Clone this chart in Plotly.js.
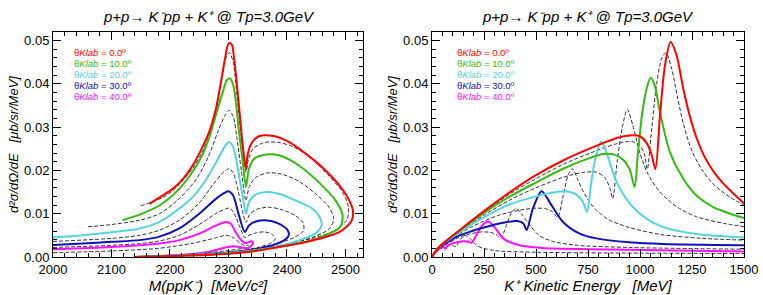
<!DOCTYPE html>
<html>
<head>
<meta charset="utf-8">
<script src="https://cdn.plot.ly/plotly-3.0.1.min.js"></script>
<style>html,body{margin:0;padding:0;background:#fff}#chart{width:763px;height:295px}</style>
</head>
<body>
<div id="chart"></div>
<script>
// ===== Right panel: K+ kinetic energy (MeV) vs d2sigma/dOmega/dE =====
var tRed = [0,15,40,75,120,180,250,375,500,630,760,890,950,1000,1030,1055,1074,1096,1120,1147,1175,1208,1240,1272,1310,1353,1400,1450,1500];
var sRed = [0,0.0012,0.0026,0.0040,0.0057,0.0080,0.0106,0.0150,0.0189,0.0223,0.0251,0.0275,0.0281,0.0279,0.0265,0.0238,0.0203,0.0327,0.0443,0.0497,0.0468,0.0389,0.0325,0.0275,0.0232,0.0198,0.0170,0.0146,0.0124];
var tGreen = [0,15,40,75,120,180,250,375,500,630,760,825,880,920,950,974,990,1010,1035,1051,1070,1096,1144,1208,1272,1353,1433,1500];
var sGreen = [0,0.0012,0.0026,0.0040,0.0056,0.0078,0.0102,0.0140,0.0172,0.0204,0.0229,0.0238,0.0236,0.0224,0.0203,0.0162,0.0240,0.0330,0.0395,0.0414,0.0398,0.0335,0.0242,0.0181,0.0142,0.0115,0.0100,0.0090];
var tCyan = [0,15,40,75,120,180,250,375,500,560,630,680,710,730,745,765,785,814,840,888,952,1032,1112,1272,1500];
var sCyan = [0,0.0012,0.0025,0.0038,0.0053,0.0072,0.0092,0.0122,0.0140,0.0147,0.0152,0.0148,0.0138,0.0122,0.0104,0.0170,0.0227,0.0267,0.0240,0.0173,0.0123,0.0088,0.0069,0.0053,0.0045];
var tBlue = [0,15,40,75,120,180,250,330,410,440,455,485,527,565,630,710,790,950,1110,1500];
var sBlue = [0,0.0011,0.0023,0.0034,0.0047,0.0058,0.0068,0.0078,0.0083,0.0077,0.0062,0.0112,0.0152,0.0127,0.0081,0.0054,0.0043,0.0034,0.0030,0.0027];
var tMag = [0,15,35,55,63,75,100,140,170,190,215,245,271,300,345,420,530,770,1500];
var sMag = [0,0.0010,0.0020,0.0024,0.0019,0.0026,0.0032,0.0036,0.0036,0.0033,0.0052,0.0075,0.0082,0.0069,0.0042,0.0027,0.0021,0.0018,0.0013];
var tD5 = [0,15,40,75,120,180,250,375,500,630,760,890,960,1000,1020,1035,1055,1080,1105,1125,1150,1180,1210,1250,1300,1353,1433,1500];
var sD5 = [0,0.0012,0.0026,0.0040,0.0057,0.0079,0.0104,0.0146,0.0181,0.0214,0.0240,0.0262,0.0267,0.0257,0.0240,0.0203,0.0290,0.0400,0.0460,0.0472,0.0440,0.0370,0.0305,0.0245,0.0200,0.0168,0.0138,0.0120];
var tD15 = [0,15,40,75,120,180,250,375,500,630,720,790,830,855,869,890,915,939,965,1000,1040,1100,1180,1272,1400,1500];
var sD15 = [0,0.0012,0.0025,0.0039,0.0055,0.0075,0.0097,0.0132,0.0160,0.0184,0.0195,0.0196,0.0184,0.0160,0.0135,0.0220,0.0300,0.0341,0.0305,0.0240,0.0190,0.0148,0.0115,0.0093,0.0078,0.0070];
var tD25 = [0,15,40,75,120,180,250,330,420,500,550,580,604,630,655,675,700,720,760,800,850,950,1100,1300,1500];
var sD25 = [0,0.0011,0.0024,0.0036,0.0050,0.0067,0.0083,0.0098,0.0108,0.0113,0.0111,0.0104,0.0092,0.0140,0.0190,0.0204,0.0180,0.0158,0.0125,0.0104,0.0086,0.0068,0.0052,0.0043,0.0039];
var tD35 = [0,15,40,75,120,180,240,290,315,332,355,380,404,430,465,515,580,700,950,1500];
var sD35 = [0,0.0010,0.0021,0.0031,0.0043,0.0053,0.0058,0.0056,0.0050,0.0043,0.0070,0.0100,0.0113,0.0100,0.0077,0.0050,0.0036,0.0027,0.0022,0.0018];
var tD45 = [0,15,40,70,100,115,135,160,185,220,300,500,1000,1500];
var sD45 = [0,0.0009,0.0018,0.0025,0.0026,0.0024,0.0040,0.0050,0.0042,0.0025,0.0015,0.0011,0.0009,0.0008];

// ===== Left panel: M(ppK-) (MeV/c2) vs d2sigma/dOmega/dE =====
var mRed = [2165,2185,2205,2222,2239,2254,2267,2278,2286,2294,2300,2305,2310,2315,2320,2325,2330,2333,2340,2352,2375,2403,2432,2466,2494,2508,2513,2510,2490,2455,2420,2386,2352,2320,2280,2220,2140];
var yRed = [0.0123,0.0140,0.0158,0.0180,0.0212,0.0250,0.0289,0.0340,0.0395,0.0458,0.0493,0.0493,0.0455,0.0390,0.0320,0.0250,0.0204,0.0238,0.0264,0.0279,0.0280,0.0266,0.0239,0.0200,0.0158,0.0127,0.0105,0.0082,0.0058,0.0042,0.0031,0.0023,0.0015,0.0010,0.0006,0.0003,0];
var mGreen = [2119,2148,2182,2216,2240,2255,2268,2280,2290,2297,2302,2308,2313,2318,2324,2330,2335,2344,2364,2386,2420,2454,2483,2495,2491,2466,2432,2386,2335,2290,2220,2140];
var yGreen = [0.0085,0.0098,0.0119,0.0158,0.0200,0.0235,0.0280,0.0335,0.0380,0.0408,0.0413,0.0398,0.0355,0.0290,0.0225,0.0162,0.0204,0.0227,0.0237,0.0235,0.0212,0.0173,0.0131,0.0097,0.0069,0.0050,0.0035,0.0023,0.0013,0.0008,0.0003,0];
var mCyan = [2000,2050,2100,2148,2182,2216,2240,2260,2279,2293,2301,2308,2316,2324,2330,2335,2344,2364,2386,2414,2443,2457,2459,2448,2420,2386,2341,2300,2220,2140];
var yCyan = [0.0045,0.0050,0.0057,0.0066,0.0081,0.0112,0.0140,0.0175,0.0219,0.0254,0.0266,0.0254,0.0204,0.0142,0.0100,0.0127,0.0142,0.0150,0.0146,0.0131,0.0112,0.0089,0.0073,0.0054,0.0038,0.0025,0.0015,0.0009,0.0004,0];
var mBlue = [2000,2050,2100,2148,2182,2216,2250,2279,2293,2300,2308,2318,2328,2335,2347,2364,2386,2401,2403,2392,2364,2335,2290,2220,2140];
var yBlue = [0.0028,0.0031,0.0035,0.0039,0.0047,0.0066,0.0100,0.0135,0.0148,0.0152,0.0142,0.0096,0.0058,0.0073,0.0082,0.0085,0.0077,0.0062,0.0050,0.0036,0.0023,0.0015,0.0009,0.0004,0];
var mMag = [2000,2050,2100,2148,2182,2216,2250,2279,2295,2304,2312,2321,2329,2335,2340,2342,2338,2331,2322,2308,2295,2270,2230,2180,2140];
var yMag = [0.0018,0.0020,0.0023,0.0027,0.0031,0.0039,0.0054,0.0073,0.0081,0.0077,0.0058,0.0040,0.0032,0.0035,0.0036,0.0031,0.0025,0.0019,0.0022,0.0025,0.0022,0.0013,0.0006,0.0002,0];
var mD5 = [2150,2185,2205,2239,2254,2268,2280,2290,2297,2302,2308,2313,2320,2325,2330,2334,2342,2360,2385,2410,2440,2470,2495,2505,2502,2480,2440,2400,2350,2300,2220,2140];
var yD5 = [0.0118,0.0136,0.0153,0.0205,0.0240,0.0285,0.0345,0.0420,0.0465,0.0472,0.0450,0.0395,0.0300,0.0245,0.0196,0.0225,0.0250,0.0264,0.0265,0.0255,0.0230,0.0190,0.0150,0.0115,0.0085,0.0060,0.0042,0.0030,0.0018,0.0010,0.0004,0];
var mD15 = [2060,2100,2148,2182,2216,2245,2265,2282,2295,2301,2308,2315,2322,2330,2335,2345,2365,2390,2420,2450,2472,2480,2472,2445,2400,2350,2300,2220,2140];
var yD15 = [0.0070,0.0075,0.0085,0.0100,0.0135,0.0180,0.0230,0.0290,0.0330,0.0339,0.0325,0.0270,0.0200,0.0130,0.0160,0.0182,0.0194,0.0192,0.0175,0.0145,0.0115,0.0088,0.0065,0.0046,0.0030,0.0019,0.0011,0.0004,0];
var mD25 = [2000,2100,2148,2182,2216,2250,2275,2293,2301,2308,2317,2324,2330,2336,2348,2368,2390,2415,2428,2428,2412,2380,2340,2300,2220,2140];
var yD25 = [0.0036,0.0043,0.0050,0.0062,0.0085,0.0125,0.0170,0.0198,0.0204,0.0195,0.0150,0.0105,0.0080,0.0098,0.0110,0.0115,0.0110,0.0095,0.0078,0.0060,0.0045,0.0030,0.0018,0.0010,0.0004,0];
var mD35 = [2000,2100,2148,2182,2216,2250,2278,2295,2302,2310,2320,2328,2335,2348,2362,2375,2380,2372,2350,2320,2280,2210,2140];
var yD35 = [0.0022,0.0027,0.0031,0.0037,0.0050,0.0075,0.0100,0.0111,0.0113,0.0100,0.0068,0.0045,0.0050,0.0056,0.0058,0.0052,0.0042,0.0032,0.0022,0.0015,0.0009,0.0003,0];
var mD45 = [2000,2100,2180,2240,2280,2296,2308,2320,2328,2334,2336,2328,2300,2250,2190,2140];
var yD45 = [0.0010,0.0014,0.0020,0.0032,0.0045,0.0050,0.0045,0.0032,0.0026,0.0027,0.0024,0.0021,0.0015,0.0008,0.0003,0];

var legendLabels = ['0.0','10.0','20.0','30.0','40.0'];
var colors = ['#ff0000','#33bb11','#55d4e0','#1010b8','#ff10ff'];

function solid(x, y, c, xa, ya) {
  return {x:x, y:y, xaxis:xa, yaxis:ya, mode:'lines', type:'scatter', hoverinfo:'skip', showlegend:false,
          line:{color:c, width:2, shape:'spline', smoothing:0.8}};
}
function dashed(x, y, xa, ya) {
  return {x:x, y:y, xaxis:xa, yaxis:ya, mode:'lines', type:'scatter', hoverinfo:'skip', showlegend:false,
          line:{color:'#333333', width:1, dash:'4px,2px', shape:'spline', smoothing:0.8}};
}

var data = [
  dashed(mD5,yD5,'x','y'), dashed(mD15,yD15,'x','y'), dashed(mD25,yD25,'x','y'), dashed(mD35,yD35,'x','y'), dashed(mD45,yD45,'x','y'),
  solid(mMag,yMag,colors[4],'x','y'), solid(mBlue,yBlue,colors[3],'x','y'), solid(mCyan,yCyan,colors[2],'x','y'),
  solid(mGreen,yGreen,colors[1],'x','y'), solid(mRed,yRed,colors[0],'x','y'),
  dashed(tD5,sD5,'x2','y2'), dashed(tD15,sD15,'x2','y2'), dashed(tD25,sD25,'x2','y2'), dashed(tD35,sD35,'x2','y2'), dashed(tD45,sD45,'x2','y2'),
  solid(tMag,sMag,colors[4],'x2','y2'), solid(tBlue,sBlue,colors[3],'x2','y2'), solid(tCyan,sCyan,colors[2],'x2','y2'),
  solid(tGreen,sGreen,colors[1],'x2','y2'), solid(tRed,sRed,colors[0],'x2','y2')
];

var FONT = 'Liberation Sans, Arial, Helvetica, sans-serif';
function xax(dom, range, dtick, minor, title, anchor) {
  return {domain:dom, range:range, dtick:dtick, tick0:range[0], anchor:anchor,
    showgrid:false, zeroline:false, showline:true, linecolor:'#000', linewidth:1, mirror:'ticks',
    ticks:'inside', ticklen:8, tickwidth:1, tickcolor:'#000',
    minor:{ticks:'inside', ticklen:4, dtick:minor, tickcolor:'#000', showgrid:false},
    tickfont:{family:FONT, size:13, color:'#000'},
    title:{text:title, font:{family:FONT, size:15, color:'#000'}, standoff:4}};
}
function yax(anchor, title) {
  return {domain:[0,1], range:[0,0.052], dtick:0.01, tick0:0, tickformat:'.2f', anchor:anchor,
    showgrid:false, zeroline:false, showline:true, linecolor:'#000', linewidth:1, mirror:'ticks',
    ticks:'inside', ticklen:8, tickwidth:1, tickcolor:'#000',
    minor:{ticks:'inside', ticklen:4, dtick:0.002, tickcolor:'#000', showgrid:false},
    tickfont:{family:FONT, size:13, color:'#000'},
    title:{text:title, font:{family:FONT, size:13, color:'#000'}, standoff:2}};
}
var ytitle = '<i>d²σ/dΩ/dE   [μb/sr/MeV]</i>';
var ptitle = '<i>p+p→ K⁻pp + K⁺ @ Tp=3.0GeV</i>';

// plot area spans y = 32 (top) .. 257 (bottom) in page pixels
function paperY(py) { return (257 - py) / 225; }

var annotations = [
  {text:ptitle, xref:'paper', yref:'paper', x:209/763, y:1, yshift:16, xanchor:'center', yanchor:'middle', showarrow:false, font:{family:FONT, size:15, color:'#000'}},
  {text:ptitle, xref:'paper', yref:'paper', x:588/763, y:1, yshift:16, xanchor:'center', yanchor:'middle', showarrow:false, font:{family:FONT, size:15, color:'#000'}}
];
var legX = [73, 456];
for (var p = 0; p < 2; p++) {
  for (var i = 0; i < legendLabels.length; i++) {
    annotations.push({text:'θ<i>Klab</i> = ' + legendLabels[i] + 'º', xref:'paper', yref:'paper',
      x:legX[p]/763, y:paperY(52 + i*11), xanchor:'left', yanchor:'middle', showarrow:false,
      borderpad:0,
      font:{family:FONT, size:9.5, color:colors[i]}});
  }
}

var layout = {
  width:763, height:295, margin:{l:0, r:0, t:32, b:38}, paper_bgcolor:'#fff', plot_bgcolor:'#fff',
  xaxis: xax([53/763, 363/763], [2000, 2530], 100, 20, '<i>M(ppK⁻)  [MeV/c²]</i>', 'y'),
  yaxis: yax('x', ytitle),
  xaxis2: xax([432/763, 744/763], [0, 1500], 250, 50, '<i>K⁺ Kinetic Energy   [MeV]</i>', 'y2'),
  yaxis2: yax('x2', ytitle),
  annotations: annotations,
  showlegend:false
};
Plotly.newPlot('chart', data, layout, {displayModeBar:false, staticPlot:true});
</script>
</body>
</html>
